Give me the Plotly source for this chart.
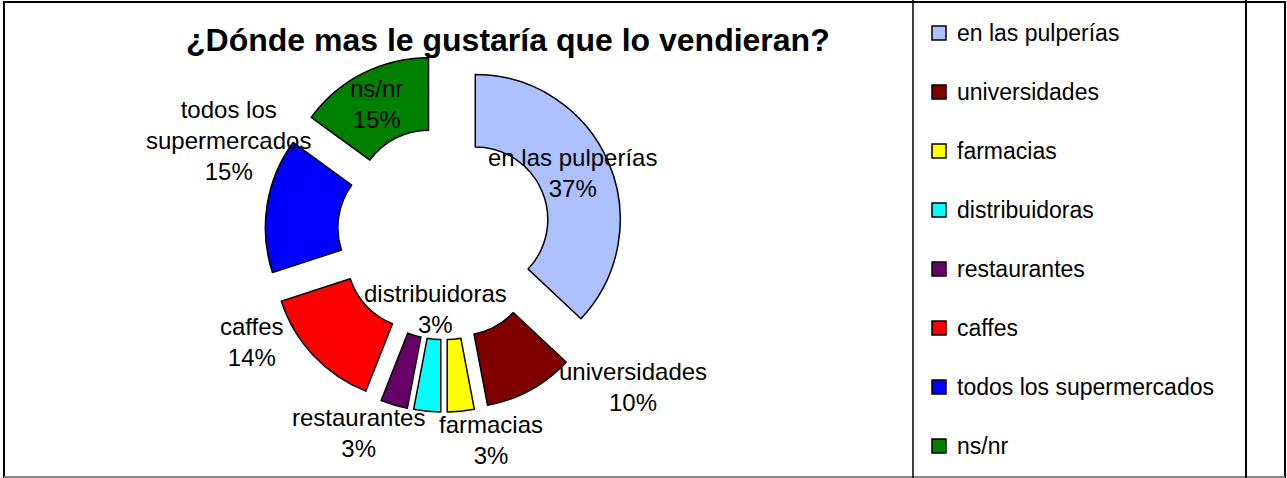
import plotly.graph_objects as go

W, H = 1287, 478

# data
labels = [
    "en las pulperías",
    "universidades",
    "farmacias",
    "distribuidoras",
    "restaurantes",
    "caffes",
    "todos los supermercados",
    "ns/nr",
]
values = [37, 10, 3, 3, 3, 14, 15, 15]
colors = [
    "#adc0ff",
    "#800000",
    "#ffff00",
    "#00ffff",
    "#660066",
    "#ff0000",
    "#0000ff",
    "#008000",
]

# data label text (Excel style, wrapped like the original)
label_text = [
    "en las pulperías",
    "universidades",
    "farmacias",
    "distribuidoras",
    "restaurantes",
    "caffes",
    "todos los<br>supermercados",
    "ns/nr",
]
# label block centers in pixels (Excel "best fit" placement)
label_pos = [
    (572, 173), (633, 387), (491, 440), (435, 309),
    (358, 433), (252, 342), (228, 141), (376, 104),
]

FONT = "Liberation Sans, Arial, sans-serif"


def px_x(x):
    return x / W


def px_y(y):
    return 1 - y / H


# pie geometry: center (444, 234), outer radius 145, pull ~0.235 of radius
cx, cy, R, pull = 444, 233, 145, 0.235
half = R * (1 + pull)

fig = go.Figure()

fig.add_trace(go.Pie(
    labels=labels,
    values=values,
    hole=0.5,
    pull=[pull] * len(values),
    sort=False,
    direction="clockwise",
    rotation=0,
    textinfo="none",
    marker=dict(colors=colors, line=dict(color="black", width=1.5)),
    domain=dict(
        x=[px_x(cx - half), px_x(cx + half)],
        y=[px_y(cy + half), px_y(cy - half)],
    ),
    showlegend=False,
    hovertemplate="%{label}<br>%{percent}<extra></extra>",
))

total = sum(values)
annotations = []
for text, v, (lx, ly) in zip(label_text, values, label_pos):
    annotations.append(dict(
        x=px_x(lx), y=px_y(ly), xref="paper", yref="paper",
        text=f"{text}<br>{round(v / total * 100)}%",
        showarrow=False, xanchor="center", yanchor="middle",
        font=dict(family=FONT, size=24, color="black"),
    ))

# title
annotations.append(dict(
    x=px_x(508), y=px_y(40), xref="paper", yref="paper",
    text="<b>¿Dónde mas le gustaría que lo vendieran?</b>",
    showarrow=False, xanchor="center", yanchor="middle",
    font=dict(family=FONT, size=32, color="black"),
))

# manual legend, one row every 59 px
shapes = []
for i, (name, col) in enumerate(zip(labels, colors)):
    yc = 33 + i * 59
    shapes.append(dict(
        type="rect", xref="paper", yref="paper",
        x0=px_x(932), x1=px_x(946), y0=px_y(yc + 7), y1=px_y(yc - 7),
        fillcolor=col, line=dict(color="black", width=1.5),
    ))
    annotations.append(dict(
        x=px_x(955), y=px_y(yc), xref="paper", yref="paper",
        text=name, showarrow=False, xanchor="left", yanchor="middle",
        font=dict(family=FONT, size=23, color="black"),
    ))

# frame and legend box lines
shapes += [
    dict(type="rect", xref="paper", yref="paper",
         x0=px_x(4), x1=px_x(1285), y0=px_y(477), y1=px_y(2),
         line=dict(color="black", width=2)),
    dict(type="line", xref="paper", yref="paper",
         x0=px_x(4), x1=px_x(1285), y0=px_y(477), y1=px_y(477),
         line=dict(color="#888888", width=2)),
    dict(type="line", xref="paper", yref="paper",
         x0=px_x(913), x1=px_x(913), y0=0, y1=1,
         line=dict(color="black", width=1.5)),
    dict(type="line", xref="paper", yref="paper",
         x0=px_x(1246), x1=px_x(1246), y0=0, y1=1,
         line=dict(color="black", width=2)),
]

fig.update_layout(
    width=W,
    height=H,
    margin=dict(l=0, r=0, t=0, b=0),
    paper_bgcolor="white",
    plot_bgcolor="white",
    annotations=annotations,
    shapes=shapes,
)

fig.write_html(
    "out.html",
    config={"displayModeBar": False},
    post_script="document.body.style.margin='0';",
)
